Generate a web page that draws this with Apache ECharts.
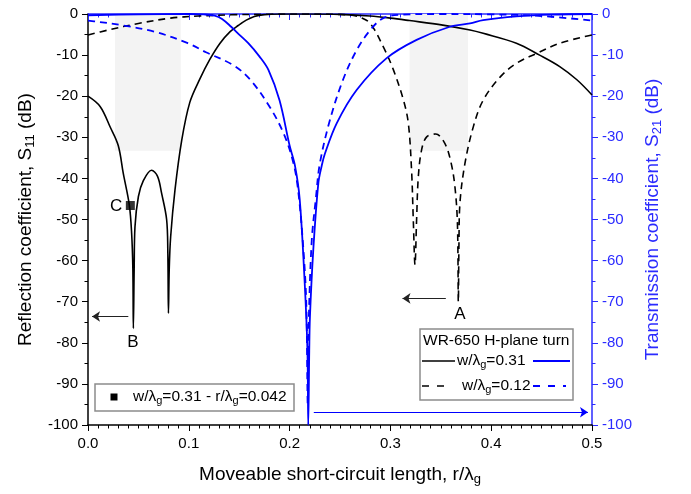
<!DOCTYPE html>
<html>
<head>
<meta charset="utf-8">
<script src="https://cdn.jsdelivr.net/npm/echarts@6/dist/echarts.min.js"></script>
<style>html,body{margin:0;padding:0;background:#fff}#c{width:691px;height:494px}</style>
</head>
<body>
<div id="c"></div>
<script>
// ---- data (x = r/λg, y = dB) ----
var s11_w031 = [[0,-20],[0.012,-22.5],[0.022,-27.5],[0.03,-32],[0.035,-38.8],[0.041,-46.5],[0.0433,-53.4],[0.0445,-62],[0.045,-76.5],[0.0458,-62],[0.0466,-51.8],[0.05,-44.4],[0.055,-40.5],[0.063,-38],[0.069,-39.5],[0.073,-43.6],[0.078,-50],[0.0792,-58],[0.0798,-72.8],[0.0806,-62],[0.082,-54.2],[0.0863,-42.8],[0.093,-30.7],[0.101,-21.5],[0.111,-15.8],[0.121,-11],[0.131,-7.1],[0.141,-4.3],[0.149,-2.8],[0.157,-1.5],[0.165,-0.6],[0.175,-0.15],[0.19,0],[0.22,0],[0.25,-0.1],[0.28,-0.5],[0.3,-1.0],[0.319,-1.6],[0.352,-2.7],[0.379,-3.9],[0.392,-4.7],[0.425,-7.1],[0.448,-10],[0.468,-12.8],[0.485,-16],[0.5,-19.7]];
var s11_w012 = [[0,-5.1],[0.02,-3.9],[0.05,-2.3],[0.082,-1.0],[0.109,-0.5],[0.142,-0.2],[0.18,-0.05],[0.22,0],[0.25,-0.1],[0.262,-0.3],[0.27,-0.8],[0.28,-2.3],[0.293,-8],[0.303,-13.6],[0.313,-21],[0.3178,-26.6],[0.321,-38],[0.3227,-50],[0.3244,-61],[0.326,-50],[0.3277,-39.6],[0.331,-33],[0.336,-29.9],[0.345,-29.2],[0.354,-31.5],[0.36,-36],[0.364,-42],[0.3665,-51],[0.3674,-70],[0.368,-56],[0.369,-46],[0.374,-36.3],[0.3823,-27.4],[0.392,-21],[0.409,-15.3],[0.425,-12],[0.445,-9.6],[0.468,-7.1],[0.5,-5.1]];
var s21_w031 = [[0,-0.3],[0.05,-0.1],[0.1,0],[0.115,-0.1],[0.1256,-0.4],[0.133,-1.2],[0.142,-3.1],[0.15,-5],[0.159,-7.1],[0.17,-10.3],[0.179,-13.6],[0.19,-21],[0.2,-32],[0.2054,-37],[0.21,-45],[0.215,-65.5],[0.2177,-82],[0.2185,-100],[0.2195,-82],[0.2202,-73.6],[0.2235,-57.4],[0.2285,-41.2],[0.2318,-37],[0.235,-34],[0.2467,-26.6],[0.2665,-18.5],[0.296,-10.8],[0.326,-6.3],[0.359,-3.1],[0.379,-2.3],[0.392,-1.5],[0.425,-0.6],[0.46,-0.15],[0.5,0]];
var s21_w012 = [[0,-1.6],[0.0099,-1.9],[0.033,-2.7],[0.066,-4.3],[0.099,-7.1],[0.117,-9.3],[0.1445,-12.5],[0.161,-16],[0.18,-22.5],[0.194,-29],[0.203,-35.5],[0.208,-42],[0.213,-55],[0.2165,-70],[0.218,-95],[0.219,-75],[0.222,-55],[0.226,-45],[0.23,-36.4],[0.24,-25.8],[0.253,-16],[0.2665,-8.8],[0.28,-3.9],[0.293,-1.0],[0.31,-0.2],[0.35,0],[0.4,-0.1],[0.45,-0.5],[0.5,-1.6]];
var pointC = [[0.042,-46.6]];
var shadedRanges = [[0.0268,0.092,0,-33.3],[0.319,0.377,0,-33.3]];
var arrowsBlack = [[[0.04,-73.6],[0.004,-73.6]],[[0.355,-69.2],[0.312,-69.2]]];
var arrowBlue = [[0.224,-96.9],[0.496,-96.9]];
var letters = [['A',0.369,-73],['B',0.0446,-80],['C',0.028,-46.7]];
var xTicks = {min:0, max:0.5, interval:0.1};
var yTicks = {min:-100, max:0, interval:10};

var FONT = 'Liberation Sans, Arial, sans-serif';
var BLUE = '#0000ff';
var AXBLUE = '#2b2bff';
var SMOOTH = 0.35;

var chart = echarts.init(document.getElementById('c'));

function titleRich(color){
  return {a:{fontFamily:FONT,fontSize:19,color:color,lineHeight:23},
          s:{fontFamily:FONT,fontSize:13,color:color,lineHeight:13,verticalAlign:'bottom'}};
}
function axisX(pos, color, showLabel, name) {
  return {
    type:'value', position:pos, min:xTicks.min, max:xTicks.max, interval:xTicks.interval,
    axisLine:{show:true, onZero:false, lineStyle:{color:color, width:1.5}},
    axisTick:{show:true, inside: pos==='top', length:6, lineStyle:{color:color, width:1}},
    minorTick:{show:true, splitNumber:10, length:3.5, lineStyle:{color:color, width:1}},
    splitLine:{show:false},
    axisLabel:{show:showLabel, fontSize:15, fontFamily:FONT, color:'#000', margin:11,
      formatter:function(v){return v.toFixed(1);}},
    name:name, nameLocation:'middle', nameGap:38,
    nameTextStyle:{fontFamily:FONT, fontSize:19, color:'#000', rich:titleRich('#000')}
  };
}
function axisY(pos, color, labelColor, name, gap) {
  return {
    type:'value', position:pos, min:yTicks.min, max:yTicks.max, interval:yTicks.interval,
    axisLine:{show:true, onZero:false, lineStyle:{color:color, width:1.5}},
    axisTick:{show:true, inside:false, length:6, lineStyle:{color:color, width:1}},
    minorTick:{show:true, splitNumber:2, length:3.5, lineStyle:{color:color, width:1}},
    splitLine:{show:false},
    axisLabel:{fontSize:15, fontFamily:FONT, color:labelColor, margin:10},
    name:name, nameLocation:'middle', nameGap:gap, nameRotate:90,
    nameTextStyle:{fontFamily:FONT, fontSize:19, color:labelColor, rich:titleRich(labelColor)}
  };
}

var markAreaData = shadedRanges.map(function(r){
  return [{xAxis:r[0], yAxis:r[2]},{xAxis:r[1], yAxis:r[3]}];
});
var arrowBlackData = arrowsBlack.map(function(a){
  return [{coord:a[0]},{coord:a[1]}];
});
var letterData = letters.map(function(l){
  return {coord:[l[1], l[2]], value:l[0]};
});

var rich = {
  n:{fontFamily:FONT, fontSize:15.5, color:'#000', lineHeight:18},
  s:{fontFamily:FONT, fontSize:11, color:'#000', lineHeight:10, verticalAlign:'bottom'}
};

var option = {
  backgroundColor:'#fff',
  animation:false,
  grid:{left:88, right:99, top:14, bottom:69, containLabel:false},
  xAxis:[axisX('bottom','#000',true,'{a|Moveable short-circuit length, r/λ}{s|g}'),
         axisX('top',AXBLUE,false,'')],
  yAxis:[axisY('left','#000','#000','{a|Reflection coefficient, S}{s|11}{a| (dB)}',51),
         axisY('right',AXBLUE,AXBLUE,'{a|Transmission coefficient, S}{s|21}{a| (dB)}',49)],
  series:[
    {type:'line', name:'S11 w=0.31', data:s11_w031, xAxisIndex:0, yAxisIndex:0, showSymbol:false,
     smooth:SMOOTH, lineStyle:{color:'#000', width:1.6}, z:3,
     markArea:{silent:true, itemStyle:{color:'#f3f3f3'}, data:markAreaData},
     markLine:{silent:true, symbol:['none','arrow'], symbolSize:8, label:{show:false},
       itemStyle:{color:'#222'},
       lineStyle:{color:'#222', width:1, type:'solid'}, data:arrowBlackData},
     markPoint:{silent:true, symbol:'circle', symbolSize:0,
       label:{show:true, formatter:'{c}', fontFamily:FONT, fontSize:17, color:'#000', position:'inside'},
       data:letterData}
    },
    {type:'line', name:'S11 w=0.12', data:s11_w012, showSymbol:false, smooth:SMOOTH,
     lineStyle:{color:'#000', width:1.6, type:[7,5]}, z:3},
    {type:'line', name:'S21 w=0.31', data:s21_w031, yAxisIndex:1, showSymbol:false, smooth:SMOOTH,
     lineStyle:{color:BLUE, width:1.8}, z:4,
     markLine:{silent:true, symbol:['none','arrow'], symbolSize:8, label:{show:false},
       itemStyle:{color:BLUE},
       lineStyle:{color:BLUE, width:1, type:'solid'}, data:[[{coord:arrowBlue[0]},{coord:arrowBlue[1]}]]}
    },
    {type:'line', name:'S21 w=0.12', data:s21_w012, yAxisIndex:1, showSymbol:false, smooth:SMOOTH,
     lineStyle:{color:BLUE, width:1.8, type:[7,5]}, z:4},
    {type:'scatter', name:'C', data:pointC, symbol:'rect', symbolSize:9,
     itemStyle:{color:'#000'}, z:6}
  ],
  graphic:[
    {type:'rect', shape:{x:95,y:384,width:199,height:27}, style:{fill:'#fff', stroke:'#8c8c8c', lineWidth:1.5}, z:10},
    {type:'rect', shape:{x:110.5,y:393.5,width:7,height:7}, style:{fill:'#000'}, z:11},
    {type:'text', x:133, y:397, style:{text:'{n|w/λ}{s|g}{n|=0.31 - r/λ}{s|g}{n|=0.042}', rich:rich, verticalAlign:'middle', align:'left'}, z:11},

    {type:'rect', shape:{x:420,y:329,width:153,height:71}, style:{fill:'#fff', stroke:'#8c8c8c', lineWidth:1.5}, z:10},
    {type:'text', x:423, y:341, style:{text:'{n|WR-650 H-plane turn}', rich:rich, verticalAlign:'middle', align:'left'}, z:11},
    {type:'line', shape:{x1:422,y1:361,x2:455,y2:361}, style:{stroke:'#000', lineWidth:1.6}, z:11},
    {type:'text', x:457, y:361, style:{text:'{n|w/λ}{s|g}{n|=0.31}', rich:rich, verticalAlign:'middle', align:'left'}, z:11},
    {type:'line', shape:{x1:533,y1:361,x2:570,y2:361}, style:{stroke:BLUE, lineWidth:1.8}, z:11},
    {type:'line', shape:{x1:422,y1:386,x2:452,y2:386}, style:{stroke:'#000', lineWidth:1.6, lineDash:[7,8]}, z:11},
    {type:'text', x:462, y:386, style:{text:'{n|w/λ}{s|g}{n|=0.12}', rich:rich, verticalAlign:'middle', align:'left'}, z:11},
    {type:'line', shape:{x1:533,y1:386,x2:566,y2:386}, style:{stroke:BLUE, lineWidth:1.8, lineDash:[7,8]}, z:11}
  ]
};
chart.setOption(option);
</script>
</body>
</html>
